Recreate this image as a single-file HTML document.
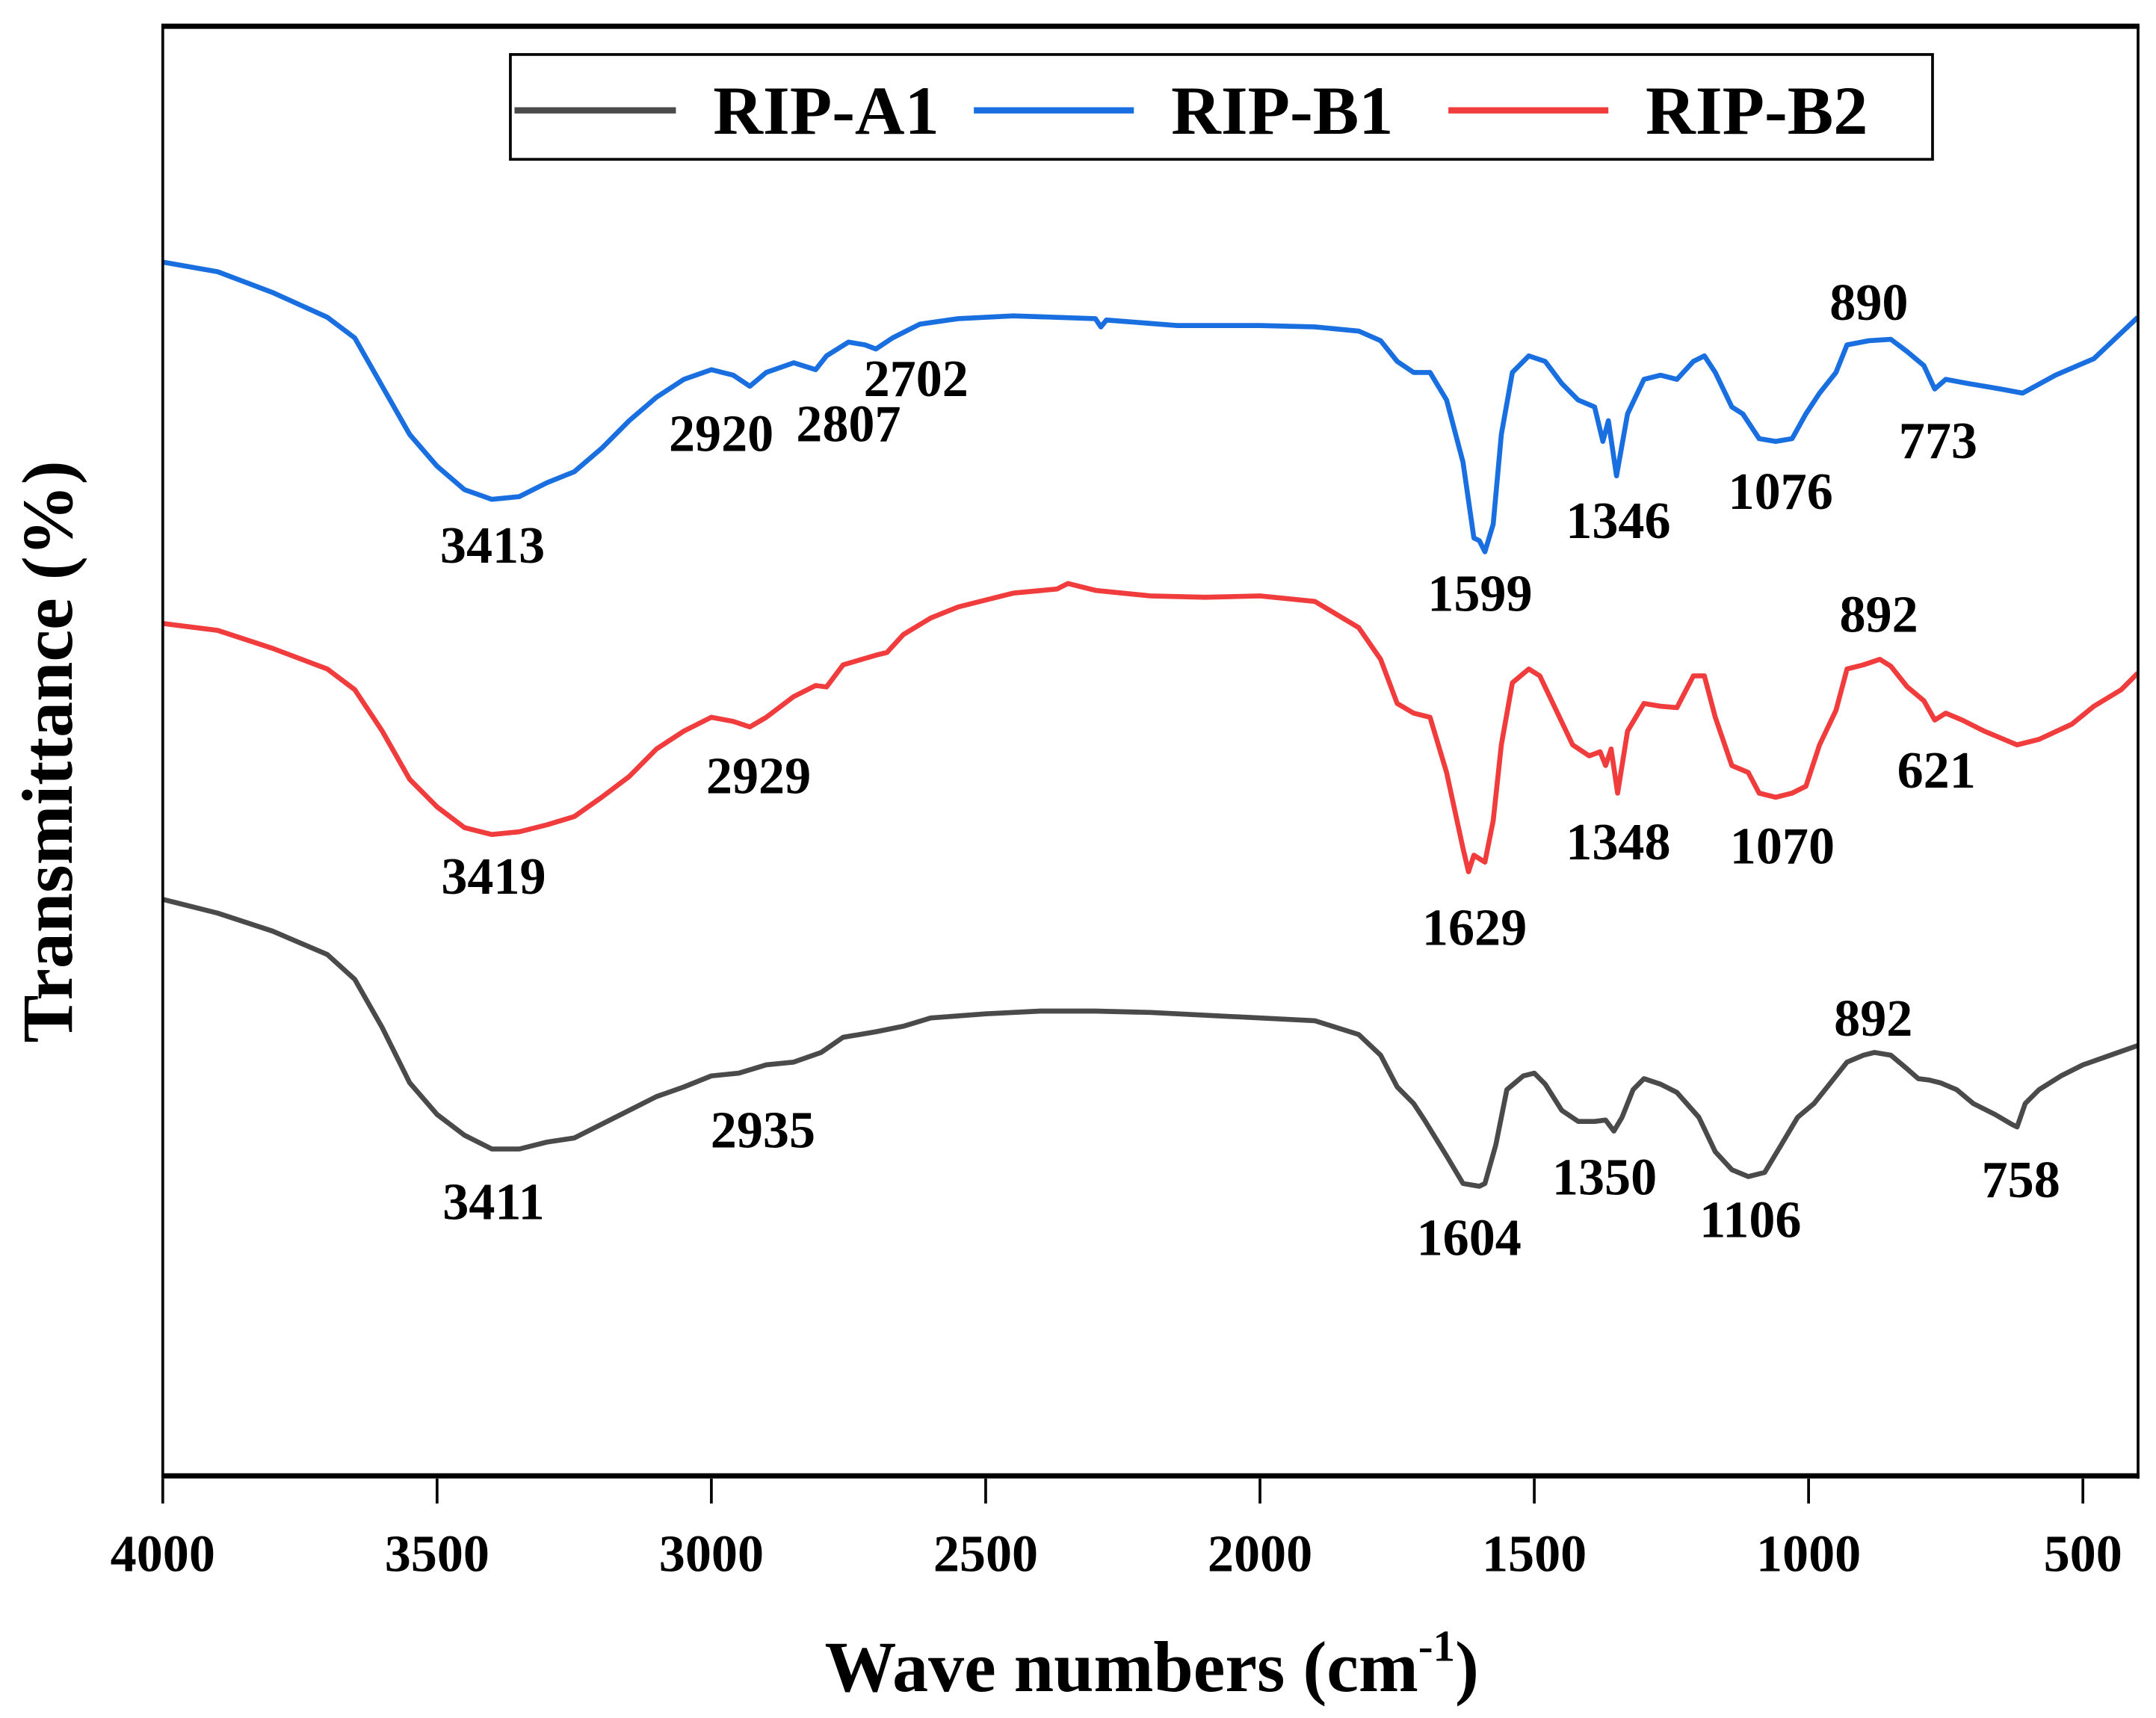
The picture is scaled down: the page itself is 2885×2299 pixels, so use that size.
<!DOCTYPE html>
<html><head><meta charset="utf-8"><style>
html,body{margin:0;padding:0;background:#fff}
svg{display:block}
text{font-family:"Liberation Serif","Times New Roman",serif;font-weight:bold;fill:#000}
</style></head><body>
<svg id="chart" width="2885" height="2299" viewBox="0 0 1563 1245.5" xmlns="http://www.w3.org/2000/svg">
<rect x="0" y="0" width="1563" height="1245.5" fill="#fff"/>
<g id="curves"></g>
<g id="annots"></g>
<g id="axes">
<line x1="117" y1="19" x2="1551" y2="19" stroke="#000" stroke-width="3.8"/>
<line x1="117" y1="1070" x2="1551" y2="1070" stroke="#000" stroke-width="3.8"/>
<line x1="118" y1="18" x2="118" y2="1072" stroke="#000" stroke-width="2"/>
<line x1="1550" y1="18" x2="1550" y2="1072" stroke="#000" stroke-width="2"/>
</g>
<g id="xticks"></g>
<text x="835" y="1226" font-size="52" text-anchor="middle">Wave numbers (cm<tspan font-size="32" dy="-22">-1</tspan><tspan dy="22">)</tspan></text>
<text transform="translate(52,545) rotate(-90)" font-size="52" text-anchor="middle">Transmittance (%)</text>
<g>
<rect x="370" y="39.5" width="1031" height="76" fill="#fff" stroke="#000" stroke-width="2"/>
<line x1="373" y1="80" x2="490" y2="80" stroke="#4a4a4a" stroke-width="4.5"/>
<text x="517" y="97" font-size="50">RIP-A1</text>
<line x1="706" y1="80" x2="822" y2="80" stroke="#1a6fe0" stroke-width="4.5"/>
<text x="849" y="97" font-size="50">RIP-B1</text>
<line x1="1050" y1="80" x2="1166" y2="80" stroke="#f03c3c" stroke-width="4.5"/>
<text x="1193" y="97" font-size="50">RIP-B2</text>
</g>
</svg>
<script>
// wavenumbers (cm-1) and transmittance (a.u.) for each series
const wnB1=[4000,3900,3800,3700,3650,3600,3550,3500,3450,3400,3350,3300,3250,3200,3150,3100,3050,3000,2960,2930,2900,2850,2810,2790,2750,2720,2700,2670,2620,2550,2450,2300,2290,2280,2150,2000,1900,1820,1780,1750,1720,1690,1660,1630,1610,1600,1590,1575,1560,1540,1510,1480,1450,1420,1390,1375,1365,1350,1330,1300,1270,1240,1210,1190,1170,1140,1120,1090,1060,1030,1005,980,950,930,890,850,820,790,770,750,710,650,610,550,480,400];
const tB1=[882,875,860,842,827,792,757,734,717,710,712,722,730,747,767,784,797,804,800,792,802,809,804,814,824,822,819,827,837,841,843,841,835,840,836,836,835,832,825,810,802,802,782,737,682,680,672,692,757,802,814,810,794,782,777,752,767,727,772,797,800,797,810,814,802,777,772,754,752,754,772,787,802,822,825,826,817,807,790,797,794,790,787,800,812,842];
const wnB2=[4000,3900,3800,3700,3650,3600,3550,3500,3450,3400,3350,3300,3250,3200,3150,3100,3050,3000,2960,2930,2900,2850,2810,2790,2760,2700,2680,2650,2600,2550,2500,2450,2370,2350,2300,2200,2100,2000,1900,1820,1780,1750,1720,1690,1660,1630,1620,1610,1590,1575,1560,1540,1510,1490,1460,1430,1400,1380,1370,1360,1348,1330,1300,1270,1240,1210,1190,1170,1140,1110,1090,1060,1030,1005,980,950,930,900,870,850,820,790,770,750,720,680,620,580,520,480,430,400];
const tB2=[620,615,602,587,572,542,507,487,472,467,469,474,480,494,509,529,542,552,549,545,552,567,575,574,590,597,599,612,624,632,637,642,645,649,644,640,639,640,636,617,594,562,555,552,512,457,440,452,447,477,532,577,587,582,557,532,524,527,517,529,497,542,562,560,559,582,582,552,517,512,497,494,497,502,532,557,587,590,594,589,574,564,550,555,550,542,532,536,547,560,572,584];
const wnA1=[4000,3900,3800,3700,3650,3600,3550,3500,3450,3400,3350,3300,3250,3200,3150,3100,3050,3000,2950,2900,2850,2800,2760,2700,2650,2600,2500,2400,2300,2200,2100,2000,1900,1820,1780,1750,1720,1700,1660,1630,1600,1590,1570,1550,1520,1500,1480,1450,1420,1390,1370,1355,1340,1320,1300,1270,1240,1200,1170,1140,1110,1080,1050,1020,990,960,930,900,880,850,820,800,780,760,730,700,660,630,620,605,580,540,500,450,400];
const tA1=[420,410,397,380,362,327,287,264,249,239,239,244,247,257,267,277,284,292,294,300,302,309,320,324,328,334,337,339,339,338,336,334,332,322,307,284,272,260,234,214,212,214,242,282,292,294,286,267,259,259,260,252,262,282,290,286,280,262,237,224,219,222,242,262,272,287,302,307,309,307,297,290,289,287,282,272,264,257,255,272,282,292,300,307,314];
const xTicks=[4000,3500,3000,2500,2000,1500,1000,500];
// peak label text, anchor wavenumber of the label centre, and label height (a.u.)
const annB1=["3413","2920","2807","2702","1599","1346","1076","890","773"];
const annB1w=[3399,2982,2750,2627,1599,1347,1051,890,764];
const annB1t=[664,745,752,785,629,682,703,840,740];
const annB2=["3419","2929","1629","1348","1070","892","621"];
const annB2w=[3397,2914,1609,1347,1048,872,767];
const annB2t=[424,497,387,449,446,614,501];
const annA1=["3411","2935","1604","1350","1106","892","758"];
const annA1w=[3397,2906,1619,1372,1106,882,613];
const annA1t=[188,240,162,206,175,321,204];

const NS="http://www.w3.org/2000/svg";
function xS(w){return 118+(4000-w)*(1392/3500);}
function yS(t){return 1072-t;}
const curves=document.getElementById('curves');
function drawSeries(wn,t,color,name){
  let d='';
  for(let i=0;i<wn.length;i++){d+=(i?'L':'M')+xS(wn[i]).toFixed(1)+' '+yS(t[i]).toFixed(1);}
  const p=document.createElementNS(NS,'path');
  p.setAttribute('d',d);p.setAttribute('fill','none');p.setAttribute('stroke',color);
  p.setAttribute('stroke-width','3.6');p.setAttribute('stroke-linejoin','round');
  
  
  curves.appendChild(p);
}
drawSeries(wnA1,tA1,'#4a4a4a','series-rip-a1');
drawSeries(wnB1,tB1,'#1a6fe0','series-rip-b1');
drawSeries(wnB2,tB2,'#f03c3c','series-rip-b2');

const xt=document.getElementById('xticks');
for(const v of xTicks){
  const l=document.createElementNS(NS,'line');
  l.setAttribute('x1',xS(v));l.setAttribute('x2',xS(v));l.setAttribute('y1',1072);l.setAttribute('y2',1090);
  l.setAttribute('stroke','#000');l.setAttribute('stroke-width','2');
  
  
  xt.appendChild(l);
  const tx=document.createElementNS(NS,'text');
  tx.setAttribute('x',xS(v));tx.setAttribute('y',1139);tx.setAttribute('font-size','38');tx.setAttribute('text-anchor','middle');
  tx.textContent=v;
  
  
  xt.appendChild(tx);
}
const an=document.getElementById('annots');
function drawAnn(labels,ws,ts){
  for(let i=0;i<labels.length;i++){
    const tx=document.createElementNS(NS,'text');
    tx.setAttribute('x',xS(ws[i]));tx.setAttribute('y',yS(ts[i]));
    tx.setAttribute('font-size','38');tx.setAttribute('text-anchor','middle');
    tx.textContent=labels[i];
    
    
    an.appendChild(tx);
  }
}
drawAnn(annB1,annB1w,annB1t);
drawAnn(annB2,annB2w,annB2t);
drawAnn(annA1,annA1w,annA1t);
</script>
</body></html>
